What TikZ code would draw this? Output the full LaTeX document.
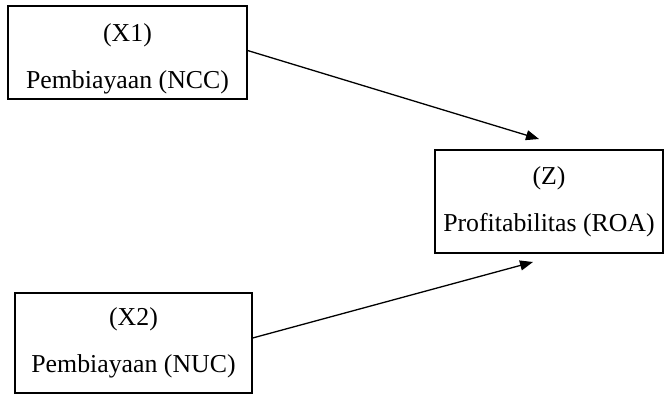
\documentclass[tikz,border=0pt]{standalone}
\usepackage{fontspec}
\setmainfont{Liberation Serif}
\usetikzlibrary{arrows.meta}
\newcommand{\pushdown}[1]{\rule{0pt}{#1}}
\begin{document}
\begin{tikzpicture}[x=1pt,y=-1pt,
  varbox/.style={draw,line width=1.2pt,rectangle,inner sep=0pt,align=center,
    font=\fontsize{25.8}{47}\selectfont},
  conn/.style={line width=1.3pt,-{Triangle[length=13pt,width=10pt]}}]
\useasboundingbox (0,0) rectangle (666,394);
\node[varbox,minimum width=239pt,minimum height=93pt] (x1) at (127.5,52.5) {\pushdown{30pt}(X1)\\Pembiayaan (NCC)};
\node[varbox,minimum width=228pt,minimum height=103pt] (z) at (549,201.5) {(Z)\\Profitabilitas (ROA)};
\node[varbox,minimum width=237pt,minimum height=100pt] (x2) at (133.5,343) {(X2)\\Pembiayaan (NUC)};
\coordinate (e1) at (539,139);
\coordinate (e2) at (533,262);
\draw[conn] ([yshift=2pt]x1.east) -- (e1);
\draw[conn] ([yshift=5pt]x2.east) -- (e2);
\end{tikzpicture}
\end{document}
